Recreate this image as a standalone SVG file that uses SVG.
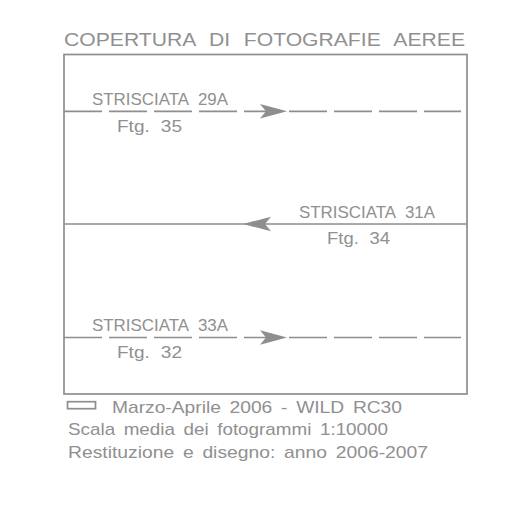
<svg xmlns="http://www.w3.org/2000/svg" width="515" height="516" viewBox="0 0 515 516">
<style>
text{font-family:"Liberation Sans",Arial,sans-serif;fill:#909090}
.ln{stroke:#8e8e8e;stroke-width:1.7;fill:none}
.dash{stroke-dasharray:38 7}
.ah{fill:#8e8e8e;stroke:none}
.t{font-size:16.5px;word-spacing:5px}
.l{font-size:17px;word-spacing:3px}
</style>
<rect width="515" height="516" fill="#fff"/>
<text id="title" x="64" y="46" font-size="18.7" word-spacing="7" textLength="401" lengthAdjust="spacingAndGlyphs">COPERTURA DI FOTOGRAFIE AEREE</text>
<rect id="frame" x="64" y="54.5" width="403" height="339.5" class="ln" stroke-width="1.6"/>
<g id="connectors">
<line class="ln dash" x1="64" y1="111.3" x2="461" y2="111.3"/>
<path class="ah" d="M287,111.3 L260,104 L266,111.3 L260,118.6 Z"/>
<line class="ln" x1="64" y1="224" x2="467" y2="224"/>
<path class="ah" d="M243,224 L271,216.7 L265,224 L271,231.3 Z"/>
<line class="ln dash" x1="64" y1="337.5" x2="461" y2="337.5"/>
<path class="ah" d="M287,337.5 L260,330.2 L266,337.5 L260,344.8 Z"/>
</g>
<g id="strip29A">
<text class="t" x="92" y="105" textLength="136" lengthAdjust="spacingAndGlyphs">STRISCIATA 29A</text>
<text class="t" x="117" y="131.5" textLength="65" lengthAdjust="spacingAndGlyphs">Ftg. 35</text>
</g>
<g id="strip31A">
<text class="t" x="299" y="218.3" textLength="136" lengthAdjust="spacingAndGlyphs">STRISCIATA 31A</text>
<text class="t" x="327" y="244" textLength="63" lengthAdjust="spacingAndGlyphs">Ftg. 34</text>
</g>
<g id="strip33A">
<text class="t" x="92" y="331" textLength="136" lengthAdjust="spacingAndGlyphs">STRISCIATA 33A</text>
<text class="t" x="117" y="357.5" textLength="65" lengthAdjust="spacingAndGlyphs">Ftg. 32</text>
</g>
<g id="legend">
<rect x="67.5" y="401.7" width="28" height="7" class="ln" stroke-width="1.3"/>
<text class="l" x="112" y="412.7" textLength="290" lengthAdjust="spacingAndGlyphs">Marzo-Aprile 2006 - WILD RC30</text>
<text class="l" x="68" y="435" textLength="320" lengthAdjust="spacingAndGlyphs">Scala media dei fotogrammi 1:10000</text>
<text class="l" x="68" y="458.3" textLength="360" lengthAdjust="spacingAndGlyphs">Restituzione e disegno: anno 2006-2007</text>
</g>
</svg>
